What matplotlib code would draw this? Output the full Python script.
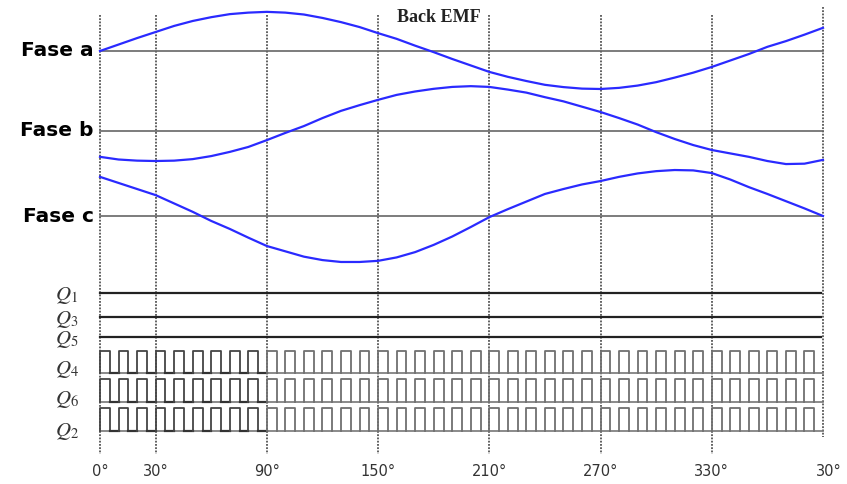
import numpy as np
import matplotlib
matplotlib.use("Agg")
import matplotlib.pyplot as plt

plt.rcParams['mathtext.fontset'] = 'stix'

# angulo electrico (grados), muestras cada 10 grados
angles = list(range(0, 400, 10))

# back EMF normalizada
emf_a = [0.0, 0.17, 0.34, 0.50, 0.66, 0.79, 0.89, 0.97, 1.01, 1.03,
         1.01, 0.96, 0.87, 0.76, 0.63, 0.47, 0.32, 0.14, -0.03, -0.21,
         -0.38, -0.55, -0.68, -0.79, -0.89, -0.95, -0.99, -1.0, -0.97, -0.91,
         -0.82, -0.70, -0.57, -0.42, -0.25, -0.08, 0.11, 0.26, 0.43, 0.61]
emf_b = [-0.68, -0.75, -0.78, -0.79, -0.78, -0.74, -0.66, -0.55, -0.42, -0.24,
         -0.05, 0.13, 0.34, 0.53, 0.68, 0.82, 0.95, 1.04, 1.11, 1.16,
         1.18, 1.16, 1.09, 1.01, 0.89, 0.78, 0.64, 0.50, 0.34, 0.17,
         -0.03, -0.21, -0.37, -0.50, -0.59, -0.68, -0.79, -0.87, -0.86, -0.76]
emf_c = [1.03, 0.87, 0.71, 0.55, 0.33, 0.11, -0.13, -0.34, -0.57, -0.79,
         -0.93, -1.07, -1.16, -1.21, -1.21, -1.18, -1.09, -0.95, -0.76, -0.54,
         -0.29, -0.03, 0.18, 0.38, 0.58, 0.71, 0.83, 0.92, 1.03, 1.12,
         1.18, 1.21, 1.20, 1.13, 0.96, 0.76, 0.58, 0.39, 0.20, 0.0]

phase_labels = ["Fase a", "Fase b", "Fase c"]
switch_on = ["$Q_1$", "$Q_3$", "$Q_5$"]
switch_pwm = ["$Q_4$", "$Q_6$", "$Q_2$"]

grid_angles = [0, 30, 90, 150, 210, 270, 330, 390]
tick_labels = ["0°", "30°", "90°", "150°", "210°", "270°", "330°", "30°"]

# PWM: flancos de subida y ancho de pulso (grados)
pwm_rise = np.arange(0, 390, 10)
pwm_width = 5.3

# --- layout (unidades verticales ~ pixeles) ---
phase_base = [51, 131, 216]
emf_scale = 38
on_rows = [293, 317, 337]
pwm_rows = [(373, 351), (402, 379), (431, 408)]

fig = plt.figure(figsize=(8.47, 4.84), dpi=100)
ax = fig.add_axes([0, 0, 1, 1])
deg_px = 723 / 390
ax.set_xlim(-100 / deg_px, 747 / deg_px)
ax.set_ylim(484, 0)
ax.axis('off')

# lineas verticales punteadas
for g in grid_angles:
    top, bot = (7, 437) if g == 390 else (15, 454)
    ax.plot([g, g], [top, bot], color='#555555', lw=1.3, ls=(0, (1, 0.8)), zorder=1)

# ejes de cada fase
for base, lab in zip(phase_base, phase_labels):
    ax.plot([0, 390], [base, base], color='#666666', lw=1.2, zorder=2)
    ax.text(-3.5, base, lab, ha='right', va='center', fontsize=14.5,
            fontweight='bold', family='DejaVu Sans', color='black')

# back EMF
for base, emf in zip(phase_base, [emf_a, emf_b, emf_c]):
    y = [base - emf_scale * v for v in emf]
    ax.plot(angles, y, color='#2a2aff', lw=1.6, zorder=3)

ax.text(183, 17, "Back EMF", ha='center', va='center', fontsize=13,
        fontweight='bold', family='Liberation Serif', color='#222222')

# Q1, Q3, Q5 siempre en nivel constante
for yq, lab in zip(on_rows, switch_on):
    ax.plot([0, 389], [yq, yq], color='#222222', lw=1.6, zorder=2)
    ax.text(-18, yq + 3, lab, ha='center', va='center', fontsize=15, color='#333333')

# Q4, Q6, Q2 conmutando en PWM
for (base, top), lab in zip(pwm_rows, switch_pwm):
    ax.plot([0, 390], [base, base], color='#777777', lw=1.2, zorder=2)
    for r in pwm_rise:
        col = '#444444' if r < 90 else '#707070'
        ax.plot([r, r, r + pwm_width, r + pwm_width], [base, top, top, base],
                color=col, lw=1.3, zorder=3)
        if r < 90:
            ax.plot([r + pwm_width, r + 10], [base, base], color='#333333', lw=1.6, zorder=3)
    ax.text(-18, base - 3 if lab != "$Q_2$" else base, lab, ha='center', va='center',
            fontsize=15, color='#333333')

for g, t in zip(grid_angles, tick_labels):
    dx = 3 if g == 390 else 0
    ax.text(g + dx, 472, t, ha='center', va='center', fontsize=10.5, color='#333333')

fig.savefig("out.png", dpi=100)
